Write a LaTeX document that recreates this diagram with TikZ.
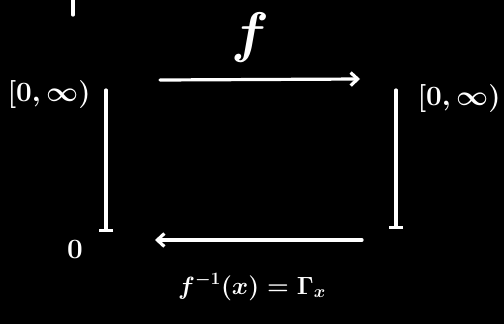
\documentclass[tikz,border=0pt]{standalone}
\usepackage{fix-cm}
\usepackage{amsmath}
\usepackage{amssymb}
\usetikzlibrary{arrows.meta,positioning}

\tikzset{
  chalk/.style={draw=white, line width=3.2bp, line cap=round},
  lbl/.style={text=white, inner sep=0pt, font=\fontsize{28}{32}\selectfont\boldmath},
}

\begin{document}
\begin{tikzpicture}[x=1bp,y=-1bp]
  \fill[black] (0,0) rectangle (504,324);
  \useasboundingbox (0,0) rectangle (504,324);

  % the two copies of the half line
  \node[lbl] (lset) at (49,95) {$[0,\infty)$};
  \node[lbl] (rset) at (459,99) {$[0,\infty)$};
  \node[lbl] (zero) at (75,250) {$0$};

  \node[lbl, font=\fontsize{56}{60}\selectfont\boldmath] (fname) at (250,38) {$f$};
  \node[lbl, font=\fontsize{25}{29}\selectfont\boldmath] (finv) at (252,287) {$f^{-1}(x)=\Gamma_x$};

  \coordinate (ltop) at (106,90);
  \coordinate (lbot) at (106,232);
  \coordinate (rtop) at (396,90);
  \coordinate (rbot) at (396,229);
  \coordinate (ftail) at (160,80);
  \coordinate (fhead) at (360,79);
  \coordinate (gtail) at (362,240);
  \coordinate (ghead) at (155,240);
  \coordinate (tickA) at (73,0);
  \coordinate (tickB) at (73,15);

  \draw[chalk, -{Bar[width=14bp]}] (ltop) -- (lbot);
  \draw[chalk, -{Bar[width=14bp]}] (rtop) -- (rbot);
  \draw[chalk, -{Straight Barb[length=7bp,width=13bp]}] (ftail) -- (fhead);
  \draw[chalk, -{Straight Barb[length=7bp,width=13bp]}] (gtail) -- (ghead);
  \draw[chalk] (tickA) -- (tickB);

\end{tikzpicture}
\end{document}
